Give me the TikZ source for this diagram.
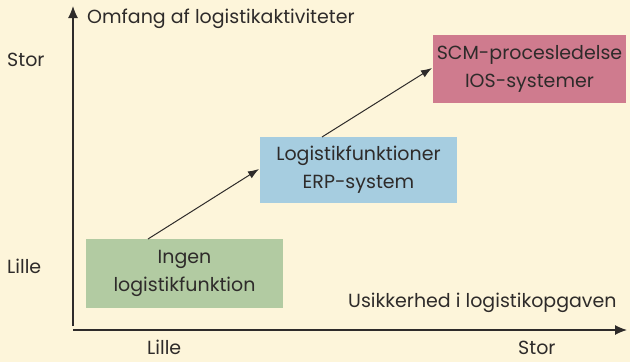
\documentclass[tikz,border=0pt]{standalone}
\usepackage{fontspec}
\setmainfont{Poppins}
\usetikzlibrary{arrows.meta}
\definecolor{bg}{HTML}{FDF5DA}
\definecolor{gbox}{HTML}{B2CBA2}
\definecolor{bbox}{HTML}{A6CDE0}
\definecolor{pbox}{HTML}{CF7B8E}
\definecolor{ink}{HTML}{2E2B2A}
\tikzset{
  box/.style={inner sep=0pt, text=ink, align=center, font=\fontsize{19}{28}\selectfont},
  lbl/.style={inner sep=0pt, text=ink, font=\fontsize{19}{20}\selectfont, anchor=base west},
  axis/.style={draw=ink, line width=1.2pt, -{Latex[length=12pt,width=10pt]}},
  conn/.style={draw=ink, line width=1pt, -{Latex[length=11pt,width=8pt]}}
}
\begin{document}
\begin{tikzpicture}[x=1pt,y=-1pt]
\fill[bg] (0,0) rectangle (630,362);
\useasboundingbox (0,0) rectangle (630,362);
% axes
\coordinate (yo) at (73,326);
\coordinate (yt) at (73,6);
\coordinate (xo) at (73,330);
\coordinate (xt) at (627,330);
\draw[axis] (yo) -- (yt);
\draw[axis] (xo) -- (xt);
% boxes
\fill[gbox] (86,239) rectangle (283,308);
\node[box] (g) at (184.5,273.5) {Ingen\\logistikfunktion};
\fill[bbox] (260,137) rectangle (457,203);
\node[box] (b) at (358.5,170) {Logistikfunktioner\\ERP-system};
\fill[pbox] (433,35) rectangle (626,103);
\node[box] (p) at (529.5,69) {SCM-procesledelse\\IOS-systemer};
\coordinate (g1) at (148,239);
\coordinate (b1) at (259,169);
\coordinate (b2) at (322,137);
\coordinate (p1) at (432,68);
\draw[conn] (g1) -- (b1);
\draw[conn] (b2) -- (p1);
% labels
\node[lbl] (ya) at (87,23) {Omfang af logistikaktiviteter};
\node[lbl] (ys) at (7,66) {Stor};
\node[lbl] (yl) at (7,273) {Lille};
\node[lbl] (xa) at (348,307) {Usikkerhed i logistikopgaven};
\node[lbl] (xl) at (147,354) {Lille};
\node[lbl] (xs) at (518,354) {Stor};
\end{tikzpicture}
\end{document}
